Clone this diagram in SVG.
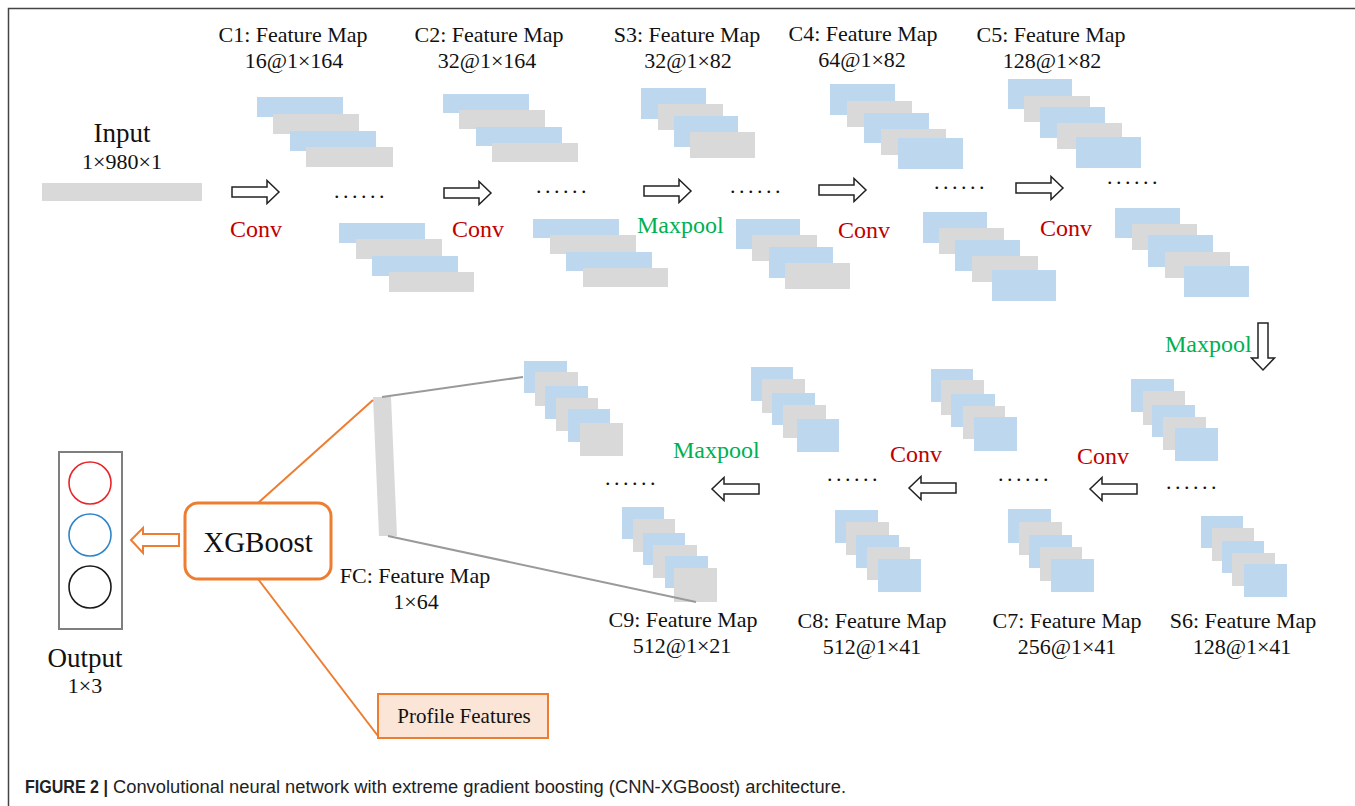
<svg xmlns="http://www.w3.org/2000/svg" xmlns:xlink="http://www.w3.org/1999/xlink" width="1355" height="806" viewBox="0 0 1355 806">
<style>
.t{font-family:"Liberation Serif","Times New Roman",serif;fill:#111;}
.lbl{font-size:22px;text-anchor:middle;}
.conv{font-family:"Liberation Serif",serif;font-size:24px;fill:#C00000;}
.mp{font-family:"Liberation Serif",serif;font-size:24px;fill:#00B050;}
.dots{font-family:"Liberation Serif",serif;font-size:22px;fill:#111;letter-spacing:3.5px;}
.b{fill:#BDD7EE;}
.g{fill:#D9D9D9;}
.arr{fill:#fff;stroke:#222;stroke-width:1.5;stroke-linejoin:miter;}
.ol{stroke:#ED7D31;stroke-width:2;fill:none;}
.gl{stroke:#9a9a9a;stroke-width:2;fill:none;}
</style>
<defs>
<path id="ra" d="M0,-5 H35 V-11.5 L47,0 L35,11.5 V5 H0 Z"/>
</defs>
<rect width="1355" height="806" fill="#fff"/>
<path d="M8.5,806 V8.5 H1355" fill="none" stroke="#444" stroke-width="1.5"/>

<g id="input">
<text class="t" x="122" y="142" font-size="27" text-anchor="middle">Input</text>
<text class="t lbl" x="122" y="169">1×980×1</text>
<rect class="g" x="42" y="183" width="160" height="18"/>
</g>

<g id="c1">
<text class="t lbl" x="293" y="42">C1: Feature Map</text>
<text class="t lbl" x="294" y="68">16@1×164</text>
<rect class="b" x="257" y="97" width="86" height="20"/>
<rect class="g" x="273" y="114" width="86" height="20"/>
<rect class="b" x="290" y="131" width="86" height="20"/>
<rect class="g" x="306" y="147" width="87" height="20"/>
<text class="dots" x="334" y="198">......</text>
<rect class="b" x="339" y="223" width="86" height="20"/>
<rect class="g" x="356" y="239" width="86" height="20"/>
<rect class="b" x="372" y="256" width="86" height="20"/>
<rect class="g" x="389" y="272" width="85" height="20"/>
</g>

<g id="c2">
<text class="t lbl" x="489" y="42">C2: Feature Map</text>
<text class="t lbl" x="487" y="68">32@1×164</text>
<rect class="b" x="443" y="94" width="86" height="19"/>
<rect class="g" x="459" y="110" width="86" height="19"/>
<rect class="b" x="476" y="127" width="86" height="19"/>
<rect class="g" x="492" y="143" width="86" height="19"/>
<text class="dots" x="536" y="193">......</text>
<rect class="b" x="533" y="219" width="86" height="19"/>
<rect class="g" x="550" y="235" width="86" height="19"/>
<rect class="b" x="566" y="252" width="86" height="19"/>
<rect class="g" x="583" y="268" width="85" height="19"/>
</g>

<g id="s3">
<text class="t lbl" x="687" y="42">S3: Feature Map</text>
<text class="t lbl" x="688" y="68">32@1×82</text>
<rect class="b" x="641" y="88" width="65" height="31"/>
<rect class="g" x="658" y="104" width="65" height="26"/>
<rect class="b" x="674" y="116" width="64" height="31"/>
<rect class="g" x="690" y="132" width="65" height="26"/>
<text class="dots" x="730" y="193">......</text>
<rect class="b" x="736" y="219" width="64" height="30"/>
<rect class="g" x="752" y="235" width="65" height="26"/>
<rect class="b" x="769" y="247" width="64" height="31"/>
<rect class="g" x="785" y="263" width="65" height="26"/>
</g>

<g id="c4">
<text class="t lbl" x="863" y="41">C4: Feature Map</text>
<text class="t lbl" x="862" y="67">64@1×82</text>
<rect class="b" x="830" y="84" width="65" height="31"/>
<rect class="g" x="847" y="101" width="65" height="26"/>
<rect class="b" x="864" y="113" width="65" height="30"/>
<rect class="g" x="881" y="129" width="65" height="26"/>
<rect class="b" x="898" y="138" width="65" height="31"/>
<text class="dots" x="934" y="189">......</text>
<rect class="b" x="923" y="212" width="64" height="31"/>
<rect class="g" x="939" y="228" width="65" height="26"/>
<rect class="b" x="955" y="240" width="65" height="31"/>
<rect class="g" x="972" y="256" width="66" height="26"/>
<rect class="b" x="992" y="270" width="64" height="31"/>
</g>

<g id="c5">
<text class="t lbl" x="1051" y="42">C5: Feature Map</text>
<text class="t lbl" x="1052" y="68">128@1×82</text>
<rect class="b" x="1008" y="79" width="64" height="30"/>
<rect class="g" x="1024" y="96" width="66" height="26"/>
<rect class="b" x="1040" y="107" width="65" height="31"/>
<rect class="g" x="1057" y="123" width="65" height="26"/>
<rect class="b" x="1076" y="137" width="65" height="31"/>
<text class="dots" x="1107" y="184">......</text>
<rect class="b" x="1115" y="208" width="65" height="30"/>
<rect class="g" x="1132" y="224" width="65" height="26"/>
<rect class="b" x="1148" y="235" width="65" height="32"/>
<rect class="g" x="1165" y="252" width="65" height="26"/>
<rect class="b" x="1184" y="266" width="65" height="31"/>
</g>

<g id="s6">
<rect class="b" x="1131" y="379" width="43" height="33"/>
<rect class="g" x="1143" y="391" width="42" height="34"/>
<rect class="b" x="1152" y="405" width="43" height="32"/>
<rect class="g" x="1163" y="417" width="43" height="33"/>
<rect class="b" x="1175" y="428" width="43" height="33"/>
<text class="dots" x="1166" y="489">......</text>
<rect class="b" x="1201" y="516" width="42" height="32"/>
<rect class="g" x="1212" y="528" width="42" height="33"/>
<rect class="b" x="1222" y="541" width="42" height="32"/>
<rect class="g" x="1232" y="553" width="43" height="33"/>
<rect class="b" x="1244" y="564" width="43" height="33"/>
<text class="t lbl" x="1243" y="628">S6: Feature Map</text>
<text class="t lbl" x="1242" y="654">128@1×41</text>
</g>

<g id="c7">
<rect class="b" x="931" y="369" width="42" height="33"/>
<rect class="g" x="941" y="380" width="43" height="35"/>
<rect class="b" x="951" y="394" width="44" height="33"/>
<rect class="g" x="963" y="406" width="42" height="33"/>
<rect class="b" x="974" y="417" width="43" height="34"/>
<text class="dots" x="998" y="481">......</text>
<rect class="b" x="1008" y="509" width="43" height="34"/>
<rect class="g" x="1019" y="522" width="43" height="33"/>
<rect class="b" x="1029" y="535" width="43" height="33"/>
<rect class="g" x="1040" y="547" width="42" height="34"/>
<rect class="b" x="1051" y="559" width="43" height="33"/>
<text class="t lbl" x="1067" y="628">C7: Feature Map</text>
<text class="t lbl" x="1067" y="654">256@1×41</text>
</g>

<g id="c8">
<rect class="b" x="751" y="367" width="42" height="34"/>
<rect class="g" x="762" y="379" width="43" height="34"/>
<rect class="b" x="772" y="393" width="43" height="32"/>
<rect class="g" x="783" y="405" width="43" height="33"/>
<rect class="b" x="797" y="419" width="42" height="33"/>
<text class="dots" x="827" y="481">......</text>
<rect class="b" x="835" y="510" width="43" height="33"/>
<rect class="g" x="846" y="522" width="43" height="33"/>
<rect class="b" x="856" y="535" width="43" height="33"/>
<rect class="g" x="867" y="547" width="43" height="33"/>
<rect class="b" x="878" y="559" width="43" height="33"/>
<text class="t lbl" x="872" y="628">C8: Feature Map</text>
<text class="t lbl" x="872" y="654">512@1×41</text>
</g>

<g id="c9">
<rect class="b" x="524" y="361" width="43" height="32"/>
<rect class="g" x="535" y="372" width="43" height="34"/>
<rect class="b" x="545" y="386" width="43" height="33"/>
<rect class="g" x="556" y="398" width="42" height="33"/>
<rect class="b" x="568" y="409" width="42" height="33"/>
<rect class="g" x="580" y="423" width="43" height="33"/>
<text class="dots" x="605" y="485">......</text>
<rect class="b" x="622" y="507" width="42" height="32"/>
<rect class="g" x="633" y="519" width="42" height="33"/>
<rect class="b" x="643" y="533" width="42" height="32"/>
<rect class="g" x="653" y="545" width="44" height="33"/>
<rect class="b" x="665" y="556" width="43" height="32"/>
<rect class="g" x="674" y="568" width="43" height="34"/>
<text class="t lbl" x="683" y="627">C9: Feature Map</text>
<text class="t lbl" x="682" y="653">512@1×21</text>
</g>

<g id="fc">
<polygon class="g" points="373,397 391,397 397,536 379,536"/>
<text class="t lbl" x="415" y="583">FC: Feature Map</text>
<text class="t lbl" x="416" y="609">1×64</text>
</g>

<g id="xgboost">
<rect x="185" y="503" width="146" height="76" rx="13" fill="#fff" stroke="#ED7D31" stroke-width="3"/>
<text class="t" x="258" y="552" font-size="29" text-anchor="middle">XGBoost</text>
</g>

<g id="profile">
<rect x="378" y="694" width="170" height="44" fill="#FBE5D6" stroke="#ED7D31" stroke-width="2"/>
<text class="t" x="464" y="723" font-size="21" text-anchor="middle">Profile Features</text>
</g>

<g id="output">
<rect x="59" y="452" width="63" height="177" fill="#fff" stroke="#7f7f7f" stroke-width="2"/>
<circle cx="90" cy="483" r="21" fill="none" stroke="#E8262A" stroke-width="1.6"/>
<circle cx="90" cy="535" r="21" fill="none" stroke="#2F85C8" stroke-width="1.6"/>
<circle cx="90" cy="587" r="21" fill="none" stroke="#1a1a1a" stroke-width="1.6"/>
<text class="t" x="85" y="667" font-size="27" text-anchor="middle">Output</text>
<text class="t lbl" x="85" y="693">1×3</text>
</g>

<g id="connectors">
<line class="gl" x1="382" y1="397" x2="523" y2="377"/>
<line class="gl" x1="388" y1="536" x2="696" y2="602"/>
<line class="ol" x1="258" y1="503" x2="373" y2="400"/>
<line class="ol" x1="258" y1="579" x2="378" y2="736"/>
<use xlink:href="#ra" class="arr" transform="translate(232,192)"/>
<use xlink:href="#ra" class="arr" transform="translate(444,193)"/>
<use xlink:href="#ra" class="arr" transform="translate(644,191)"/>
<use xlink:href="#ra" class="arr" transform="translate(819,190)"/>
<use xlink:href="#ra" class="arr" transform="translate(1016,188)"/>
<use xlink:href="#ra" class="arr" transform="translate(1263,323) rotate(90)"/>
<use xlink:href="#ra" class="arr" transform="translate(1137,489) scale(-1,1)"/>
<use xlink:href="#ra" class="arr" transform="translate(956,488) scale(-1,1)"/>
<use xlink:href="#ra" class="arr" transform="translate(759,489) scale(-1,1)"/>
<path d="M179,534 H143 V528 L131,540 L143,553 V546 H179 Z" fill="#fff" stroke="#ED7D31" stroke-width="2"/>
<text class="conv" x="230" y="237">Conv</text>
<text class="conv" x="452" y="237">Conv</text>
<text class="mp" x="637" y="233">Maxpool</text>
<text class="conv" x="838" y="238">Conv</text>
<text class="conv" x="1040" y="236">Conv</text>
<text class="mp" x="1165" y="352">Maxpool</text>
<text class="conv" x="1077" y="464">Conv</text>
<text class="conv" x="890" y="462">Conv</text>
<text class="mp" x="673" y="458">Maxpool</text>
</g>

<g id="caption">
<text x="25" y="793" font-family="'Liberation Sans',Arial,sans-serif" font-size="18" font-weight="bold" fill="#222" textLength="83" lengthAdjust="spacingAndGlyphs">FIGURE 2 |</text>
<text x="113" y="793" font-family="'Liberation Sans',Arial,sans-serif" font-size="18" fill="#222" textLength="733" lengthAdjust="spacingAndGlyphs">Convolutional neural network with extreme gradient boosting (CNN-XGBoost) architecture.</text>
</g>
</svg>
